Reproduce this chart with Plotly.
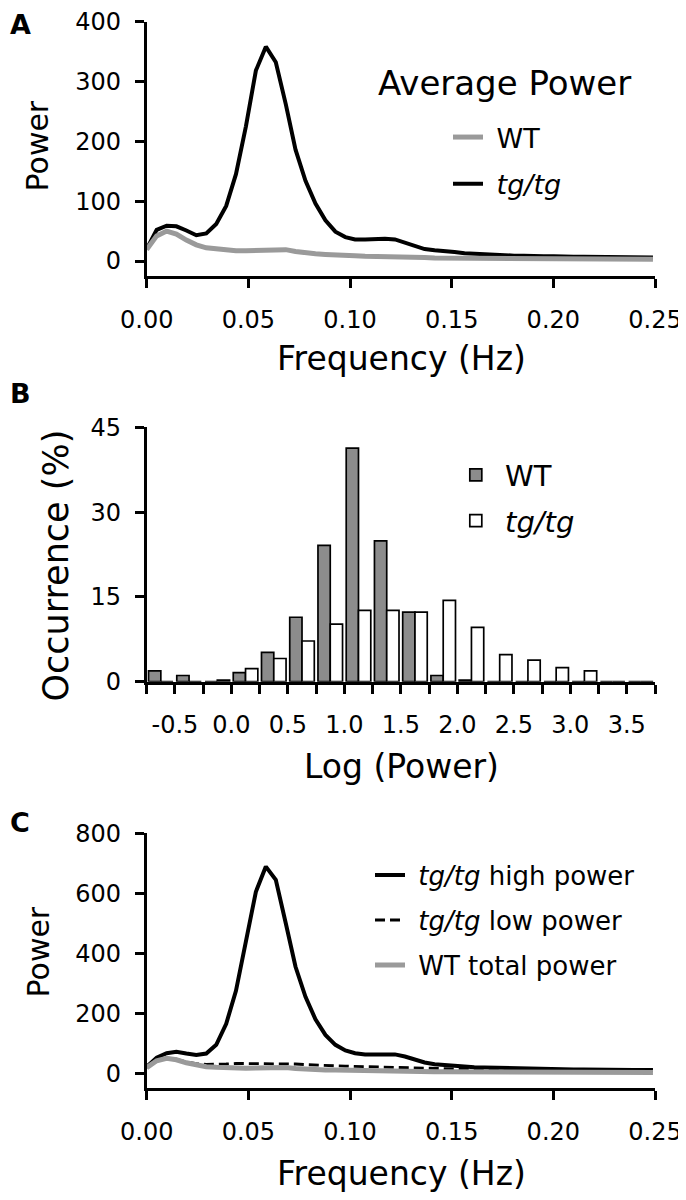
import plotly.graph_objects as go

# ---------------- data ----------------
freq_hz = [0.0, 0.0049, 0.0098, 0.0146, 0.0195, 0.0244, 0.0293, 0.0342, 0.0391, 0.0439,
           0.0488, 0.0537, 0.0586, 0.0635, 0.0684, 0.0732, 0.0781, 0.0830, 0.0879, 0.0928,
           0.0977, 0.1025, 0.1074, 0.1123, 0.1172, 0.1221, 0.1270, 0.1318, 0.1367, 0.1416,
           0.1465, 0.1514, 0.1563, 0.1611, 0.1660, 0.1709, 0.1758, 0.1807, 0.1855, 0.1904,
           0.1953, 0.2002, 0.2051, 0.2100, 0.2148, 0.2197, 0.2246, 0.2295, 0.2344, 0.2393,
           0.2441, 0.2490]

wt_power = [19, 42, 50, 45, 35, 27, 22, 20, 18, 17,
            17, 18, 19, 20, 19, 16, 13, 12, 11, 11,
            10, 9, 8, 8, 7, 7, 6, 6, 6, 5,
            5, 5, 5, 5, 4, 4, 4, 4, 4, 4,
            4, 4, 3, 3, 3, 3, 3, 3, 3, 3,
            3, 3]

tg_power = [20, 52, 59, 58, 51, 43, 46, 62, 92, 145,
            225, 318, 358, 332, 262, 186, 134, 96, 68, 49,
            40, 36, 36, 37, 37, 36, 31, 25, 20, 18,
            17, 15, 13, 12, 11, 10, 10, 9, 9, 8,
            8, 8, 7, 7, 7, 7, 6, 6, 6, 6,
            6, 6]

tg_high_power = [22, 52, 67, 72, 66, 61, 66, 95, 165, 275,
                 440, 605, 689, 645, 500, 355, 255, 180, 128, 95,
                 76, 67, 63, 62, 63, 63, 56, 45, 36, 30,
                 27, 25, 22, 20, 19, 18, 17, 16, 15, 15,
                 14, 14, 13, 13, 13, 12, 12, 12, 12, 11,
                 11, 11]

tg_low_power = [20, 42, 50, 47, 38, 32, 30, 30, 31, 33,
                33, 33, 33, 33, 32, 31, 29, 27, 26, 25,
                24, 23, 22, 21, 20, 19, 18, 17, 16, 15,
                14, 14, 13, 13, 12, 12, 11, 11, 11, 10,
                10, 10, 10, 9, 9, 9, 9, 8, 8, 8,
                8, 8]

log_power_bins = [-0.625, -0.375, -0.125, 0.125, 0.375, 0.625, 0.875, 1.125, 1.375,
                  1.625, 1.875, 2.125, 2.375, 2.625, 2.875, 3.125, 3.375, 3.625]
wt_occurrence = [1.9, 1.1, 0, 1.6, 5.2, 11.4, 24.1, 41.3, 24.9,
                 12.3, 1.1, 0.3, 0, 0, 0, 0, 0, 0]
tg_occurrence = [0, 0, 0.3, 2.3, 4.1, 7.2, 10.2, 12.6, 12.6,
                 12.3, 14.4, 9.6, 4.8, 3.8, 2.5, 1.9, 0, 0]

freq_ticks = [0.0, 0.05, 0.10, 0.15, 0.20, 0.25]
freq_ticktext = ["0.00", "0.05", "0.10", "0.15", "0.20", "0.25"]
log_ticks = [-0.75, -0.5, -0.25, 0.0, 0.25, 0.5, 0.75, 1.0, 1.25, 1.5,
             1.75, 2.0, 2.25, 2.5, 2.75, 3.0, 3.25, 3.5, 3.75]
log_ticktext = ["", "-0.5", "", "0.0", "", "0.5", "", "1.0", "", "1.5",
                "", "2.0", "", "2.5", "", "3.0", "", "3.5", ""]
powA_ticks = [0, 100, 200, 300, 400]
occ_ticks = [0, 15, 30, 45]
powC_ticks = [0, 200, 400, 600, 800]

# ---------------- style ----------------
# The page body has an 8px margin, so the figure is offset by 8px;
# positions below are given in window pixels and converted.
OFF = 8
W, H = 686 - OFF, 1200 - OFF
FONT = "DejaVu Sans"
BLACK = "#000000"
GREY_LINE = "#9a9a9a"
GREY_BAR = "#8c8c8c"


def px_x(x):
    return (x - OFF) / W


def px_y(y):
    return 1 - (y - OFF) / H


x_dom = [px_x(146.7), px_x(655)]
A_dom = [px_y(276), px_y(21.5)]
B_dom = [px_y(681.7), px_y(427.3)]
C_dom = [px_y(1088.3), px_y(833.3)]

fig = go.Figure()

# Panel A
fig.add_trace(go.Scatter(x=freq_hz, y=tg_power, mode="lines", name="\u00a0<i>tg/tg</i>",
                         line=dict(color=BLACK, width=4), xaxis="x", yaxis="y",
                         legend="legend", legendrank=2, legendgroup="a2"))
fig.add_trace(go.Scatter(x=freq_hz, y=wt_power, mode="lines", name="\u00a0WT",
                         line=dict(color=GREY_LINE, width=5), xaxis="x", yaxis="y",
                         legend="legend", legendrank=1, legendgroup="a1"))

# Panel B
fig.add_trace(go.Bar(x=log_power_bins, y=wt_occurrence, name="\u00a0WT",
                     marker=dict(color=GREY_BAR, line=dict(color=BLACK, width=1.7)),
                     xaxis="x2", yaxis="y2", legend="legend2", legendgroup="b1"))
fig.add_trace(go.Bar(x=log_power_bins, y=tg_occurrence, name="\u00a0<i>tg/tg</i>",
                     marker=dict(color="#ffffff", line=dict(color=BLACK, width=1.7)),
                     xaxis="x2", yaxis="y2", legend="legend2", legendgroup="b2"))

# Panel C
fig.add_trace(go.Scatter(x=freq_hz, y=tg_high_power, mode="lines",
                         name="\u00a0<i>tg/tg</i> high power",
                         line=dict(color=BLACK, width=4), xaxis="x3", yaxis="y3",
                         legend="legend3", legendgroup="c1"))
fig.add_trace(go.Scatter(x=freq_hz, y=tg_low_power, mode="lines",
                         name="\u00a0<i>tg/tg</i> low power",
                         line=dict(color=BLACK, width=2.8, dash="10px,5px"),
                         xaxis="x3", yaxis="y3", legend="legend3", legendgroup="c2"))
fig.add_trace(go.Scatter(x=freq_hz, y=wt_power, mode="lines", name="\u00a0WT total power",
                         line=dict(color=GREY_LINE, width=5), xaxis="x3", yaxis="y3",
                         legend="legend3", legendgroup="c3"))

axis_common = dict(showline=True, linecolor=BLACK, linewidth=2.8, ticks="outside",
                   ticklen=9, tickwidth=2.8, tickcolor=BLACK, showgrid=False,
                   zeroline=False, automargin=False, ticklabeloverflow="allow",
                   tickfont=dict(family=FONT, size=24, color=BLACK))

xcommon = dict(axis_common, ticklabelstandoff=11)
ycommon = dict(axis_common, ticklabelstandoff=9)

fig.update_layout(
    width=W, height=H, autosize=False,
    margin=dict(l=0, r=0, t=0, b=0, pad=0, autoexpand=False),
    paper_bgcolor="white", plot_bgcolor="white",
    font=dict(family=FONT, color=BLACK),
    barmode="group", bargap=0.13, bargroupgap=0,
    xaxis=dict(xcommon, domain=x_dom, range=[0, 0.25], tickvals=freq_ticks,
               ticktext=freq_ticktext, anchor="y"),
    yaxis=dict(ycommon, domain=A_dom, range=[-25, 400], tickvals=powA_ticks, anchor="x"),
    xaxis2=dict(xcommon, domain=x_dom, range=[-0.75, 3.75], tickvals=log_ticks,
                ticktext=log_ticktext, anchor="y2"),
    yaxis2=dict(ycommon, domain=B_dom, range=[0, 45], tickvals=occ_ticks, anchor="x2"),
    xaxis3=dict(xcommon, domain=x_dom, range=[0, 0.25], tickvals=freq_ticks,
                ticktext=freq_ticktext, anchor="y3"),
    yaxis3=dict(ycommon, domain=C_dom, range=[-50, 800], tickvals=powC_ticks, anchor="x3"),
    legend=dict(x=px_x(448), y=px_y(113), xanchor="left", yanchor="top",
                font=dict(family=FONT, size=27, color=BLACK), bgcolor="rgba(0,0,0,0)",
                traceorder="grouped", tracegroupgap=8.6, borderwidth=0),
    legend2=dict(x=px_x(455.8), y=px_y(449.6), xanchor="left", yanchor="top",
                 font=dict(family=FONT, size=29, color=BLACK), bgcolor="rgba(0,0,0,0)",
                 traceorder="grouped", tracegroupgap=5, borderwidth=0),
    legend3=dict(x=px_x(370), y=px_y(851.6), xanchor="left", yanchor="top",
                 font=dict(family=FONT, size=26, color=BLACK), bgcolor="rgba(0,0,0,0)",
                 traceorder="grouped", tracegroupgap=8.2, borderwidth=0),
)

annots = [
    dict(text="<b>A</b>", x=20, y=25, size=27),
    dict(text="<b>B</b>", x=20, y=393, size=27),
    dict(text="<b>C</b>", x=20, y=822, size=27),
    dict(text="Average Power", x=505, y=83, size=34),
    dict(text="Power", x=37.5, y=146, size=30, angle=-90),
    dict(text="Frequency (Hz)", x=401, y=358.3, size=33),
    dict(text="Occurrence (%)", x=55.5, y=566, size=35, angle=-90),
    dict(text="Log (Power)", x=401, y=766.7, size=33),
    dict(text="Power", x=38, y=952.5, size=30, angle=-90),
    dict(text="Frequency (Hz)", x=401, y=1173.3, size=33),
]
for a in annots:
    fig.add_annotation(text=a["text"], x=px_x(a["x"]), y=px_y(a["y"]), xref="paper",
                       yref="paper", xanchor="center", yanchor="middle", showarrow=False,
                       textangle=a.get("angle", 0), borderpad=0,
                       font=dict(family=FONT, size=a["size"], color=BLACK))

fig.write_html("out.html")
